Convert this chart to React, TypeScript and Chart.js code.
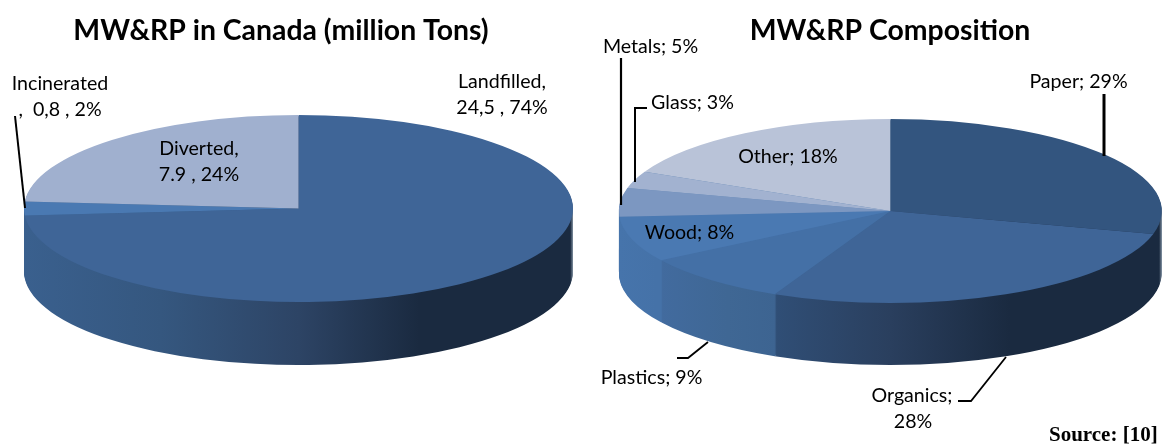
import React, { useEffect, useRef } from "react";
import { Chart, registerables } from "chart.js";

Chart.register(...registerables);

const canadaCategories = ["Landfilled", "Incinerated", "Diverted"];
const canadaValues = [24.5, 0.8, 7.9];
const canadaColors = ["#3f6597", "#4a79b2", "#a0b0cf"];

const compositionCategories = ["Paper", "Organics", "Plastics", "Wood", "Metals", "Glass", "Other"];
const compositionValues = [29, 28, 9, 8, 5, 3, 18];
const compositionColors = ["#33557f", "#3f6597", "#4470a6", "#4a79b2", "#7c97c1", "#a2b2d0", "#b9c3d8"];

const canadaTitle = "MW&RP in Canada (million Tons)";
const compositionTitle = "MW&RP Composition";
const sourceNote = "Source: [10]";

const LABEL_FONT = "19.6px Lato";
const TITLE_FONT = { family: "Lato", size: 28.4, weight: "bold" as const };

type Stop = [number, string];
const darkSide: Stop[] = [[0, "#3a608e"], [0.25, "#35577f"], [0.5, "#2d4465"], [0.72, "#1a2a40"], [0.995, "#1a2a40"], [1, "#8090a0"]];
const organicsSide: Stop[] = [[0, "#34567e"], [0.28, "#304f77"], [0.5, "#2a3f5e"], [0.72, "#1a2a40"], [0.995, "#1a2a40"], [1, "#8090a0"]];
const woodSide: Stop[] = [[0, "#4674ab"], [0.07, "#4572a8"], [1, "#4572a8"]];
const plasticsSide: Stop[] = [[0, "#436da2"], [0.07, "#426b9f"], [0.2, "#3f6794"], [0.29, "#3d6491"], [1, "#3d6491"]];
const canadaSides = [darkSide, darkSide, darkSide];
const compositionSides = [organicsSide, organicsSide, plasticsSide, woodSide, woodSide, woodSide, woodSide];

type Look = {
  left: number;
  cx: number;
  cy: number;
  rx: number;
  ry: number;
  depth: number;
  sides: Stop[][];
  texts: [string, number, number][];
  leaders: { width: number; points: [number, number][] }[];
};

const canadaLook: Look = {
  left: -30,
  cx: 298.5,
  cy: 208.5,
  rx: 274.5,
  ry: 93.5,
  depth: 63,
  sides: canadaSides,
  texts: [
    ["Landfilled,", 502, 82],
    ["24,5 , 74%", 502, 108],
    ["Incinerated", 60, 84],
    [",  0,8 , 2%", 60, 110],
    ["Diverted,", 199, 149],
    ["7.9 , 24%", 199, 175],
  ],
  leaders: [{ width: 2, points: [[15, 116], [25, 208]] }],
};

const compositionLook: Look = {
  left: 590,
  cx: 890.3,
  cy: 211,
  rx: 271.5,
  ry: 92,
  depth: 62,
  sides: compositionSides,
  texts: [
    ["Paper; 29%", 1078.5, 82],
    ["Organics;", 912, 396],
    ["28%", 913, 422],
    ["Plastics; 9%", 651.5, 378],
    ["Wood; 8%", 689.5, 233],
    ["Metals; 5%", 650.5, 47],
    ["Glass; 3%", 692.5, 103],
    ["Other; 18%", 788, 157],
  ],
  leaders: [
    { width: 2.2, points: [[621, 58], [621, 205]] },
    { width: 2, points: [[647, 108], [635, 108], [635, 182]] },
    { width: 3, points: [[1104, 94], [1104, 156]] },
    { width: 1.8, points: [[958, 401], [971, 401], [1006, 357]] },
    { width: 1.8, points: [[677, 358], [688, 358], [708, 342]] },
  ],
};

function applyTransform(ctx: CanvasRenderingContext2D, arc: any, look: Look, dy: number) {
  const R = arc.outerRadius;
  ctx.translate(look.cx - look.left, look.cy + dy);
  ctx.scale(look.rx / R, look.ry / R);
  ctx.translate(-arc.x, -arc.y);
}

function tiltPlugin(look: Look) {
  return {
    id: "tilt",
    beforeDatasetsDraw(chart: any) {
      const ctx: CanvasRenderingContext2D = chart.ctx;
      const arcs = chart.getDatasetMeta(0).data;
      const first = arcs[0];
      const R = first.outerRadius;
      const fills = arcs.map((_: any, i: number) => {
        const g = ctx.createLinearGradient(first.x - R, 0, first.x + R, 0);
        look.sides[i].forEach(([at, colour]) => g.addColorStop(at, colour));
        return g;
      });
      for (let dy = look.depth; dy >= 1; dy--) {
        ctx.save();
        applyTransform(ctx, first, look, dy);
        arcs.forEach((arc: any, i: number) => {
          const kept = arc.options;
          arc.options = { ...kept, backgroundColor: fills[i], borderWidth: 0 };
          arc.draw(ctx);
          arc.options = kept;
        });
        ctx.restore();
      }
      ctx.save();
      applyTransform(ctx, first, look, 0);
    },
    afterDatasetsDraw(chart: any) {
      chart.ctx.restore();
    },
    afterDraw(chart: any) {
      const ctx: CanvasRenderingContext2D = chart.ctx;
      ctx.save();
      ctx.translate(-look.left, 0);
      ctx.strokeStyle = "#000000";
      ctx.lineJoin = "miter";
      look.leaders.forEach(({ width, points }) => {
        ctx.lineWidth = width;
        ctx.beginPath();
        points.forEach(([x, y], i) => (i ? ctx.lineTo(x, y) : ctx.moveTo(x, y)));
        ctx.stroke();
      });
      ctx.fillStyle = "#000000";
      ctx.font = LABEL_FONT;
      ctx.textAlign = "center";
      ctx.textBaseline = "middle";
      look.texts.forEach(([t, x, y]) => ctx.fillText(t, x, y));
      ctx.restore();
    },
  };
}

function Pie3D(props: { labels: string[]; values: number[]; colors: string[]; title: string; look: Look; width: number }) {
  const ref = useRef<HTMLCanvasElement>(null);
  const { labels, values, colors, title, look, width } = props;
  useEffect(() => {
    const chart = new Chart(ref.current as HTMLCanvasElement, {
      type: "pie",
      data: { labels, datasets: [{ data: values, backgroundColor: colors, borderWidth: 0 }] },
      options: {
        responsive: false,
        animation: false,
        events: [],
        plugins: {
          legend: { display: false },
          tooltip: { enabled: false },
          title: { display: true, text: title, color: "#000000", font: TITLE_FONT, padding: { top: 14, bottom: 8 } },
        },
      },
      plugins: [tiltPlugin(look)],
    } as any);
    return () => chart.destroy();
  }, []);
  return (
    <canvas
      ref={ref}
      width={width}
      height={446}
      style={{ position: "absolute", left: look.left, top: 0, width, height: 446 }}
    />
  );
}

export default function App() {
  return (
    <div style={{ position: "fixed", left: 0, top: 0, width: 1163, height: 446, overflow: "hidden", background: "#ffffff" }}>
      <Pie3D labels={canadaCategories} values={canadaValues} colors={canadaColors} title={canadaTitle} look={canadaLook} width={622} />
      <Pie3D labels={compositionCategories} values={compositionValues} colors={compositionColors} title={compositionTitle} look={compositionLook} width={600} />
      <div style={{ position: "absolute", left: 1049, top: 422, font: "bold 21px 'Liberation Serif'", color: "#000000", whiteSpace: "nowrap" }}>
        {sourceNote}
      </div>
    </div>
  );
}
